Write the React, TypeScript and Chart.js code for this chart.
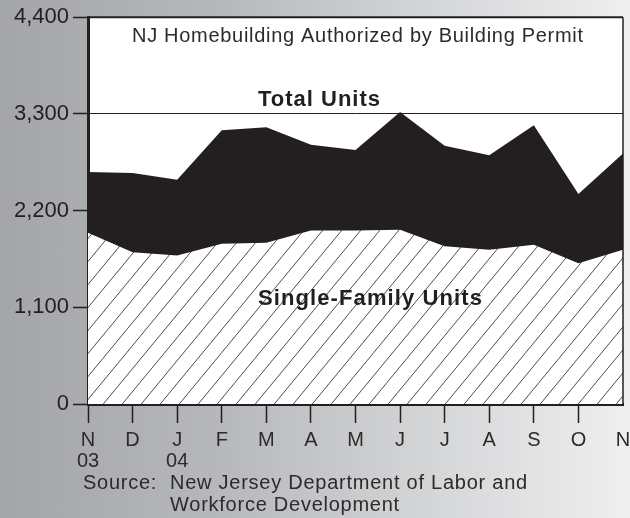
import React, { useEffect, useRef } from 'react';
import { Chart, registerables } from 'chart.js';
Chart.register(...registerables);

const months: (string | string[])[] = [["N", "03"], "D", ["J", "04"], "F", "M", "A", "M", "J", "J", "A", "S", "O", "N"];
const totalUnits = [2640, 2627, 2552, 3115, 3149, 2948, 2888, 3323, 2937, 2831, 3171, 2389, 2850];
const singleFamily = [1947, 1727, 1690, 1822, 1833, 1973, 1973, 1981, 1795, 1754, 1811, 1602, 1754];
const yMin = 0;
const yMax = 4400;
const yStep = 1100;
const gridValue = 3300;
const chartTitle = "NJ Homebuilding Authorized by Building Permit";
const totalLabel = "Total Units";
const singleLabel = "Single-Family Units";
const sourceLabel = "Source:";
const sourceLines = ["New Jersey Department of Labor and", "Workforce Development"];

const INK = '#231f20';
const TEXT = '#2b2b2b';
const FONT = '"Liberation Sans", Arial, Helvetica, sans-serif';

function makeHatch(ctx: CanvasRenderingContext2D) {
  const c = document.createElement('canvas');
  const w = 19, h = 23;
  c.width = w; c.height = h;
  const g = c.getContext('2d')!;
  g.fillStyle = '#ffffff';
  g.fillRect(0, 0, w, h);
  g.strokeStyle = '#3a3a3a';
  g.lineWidth = 0.9;
  g.beginPath();
  for (const dx of [-w, 0, w]) {
    g.moveTo(dx, h);
    g.lineTo(dx + w, 0);
  }
  g.stroke();
  return ctx.createPattern(c, 'repeat')!;
}

const overlay = {
  id: 'overlay',
  beforeDraw(chart: any) {
    const { ctx, chartArea: ca } = chart;
    ctx.save();
    ctx.fillStyle = '#ffffff';
    ctx.fillRect(ca.left, ca.top, ca.right - ca.left, ca.bottom - ca.top);
    ctx.restore();
  },
  afterDatasetsDraw(chart: any) {
    const { ctx, chartArea: ca } = chart;
    ctx.save();
    ctx.strokeStyle = INK;
    ctx.lineWidth = 2;
    ctx.beginPath();
    ctx.moveTo(ca.left, ca.top);
    ctx.lineTo(ca.right, ca.top);
    ctx.stroke();
    ctx.lineWidth = 1.5;
    ctx.beginPath();
    ctx.moveTo(ca.right, ca.top);
    ctx.lineTo(ca.right, ca.bottom);
    ctx.stroke();
    ctx.textAlign = 'left';
    ctx.textBaseline = 'alphabetic';
    ctx.fillStyle = TEXT;
    ctx.font = `20px ${FONT}`;
    (ctx as any).letterSpacing = '0.7px';
    ctx.fillText(chartTitle, 132, 41.5);
    ctx.fillStyle = INK;
    ctx.font = `bold 22px ${FONT}`;
    (ctx as any).letterSpacing = '1px';
    ctx.fillText(totalLabel, 258, 106);
    (ctx as any).letterSpacing = '1.1px';
    ctx.fillText(singleLabel, 258, 305);
    ctx.restore();
  },
  afterDraw(chart: any) {
    const { ctx } = chart;
    ctx.save();
    ctx.fillStyle = TEXT;
    ctx.font = `20px ${FONT}`;
    (ctx as any).letterSpacing = '0.75px';
    ctx.textAlign = 'left';
    ctx.textBaseline = 'alphabetic';
    ctx.fillText(sourceLabel, 83, 489);
    ctx.fillText(sourceLines[0], 170, 489);
    ctx.fillText(sourceLines[1], 170, 511);
    ctx.restore();
  },
};

export default function App() {
  const ref = useRef<HTMLCanvasElement>(null);
  useEffect(() => {
    document.body.style.margin = '0';
    const canvas = ref.current!;
    const ctx = canvas.getContext('2d')!;
    const hatch = makeHatch(ctx);
    const chart = new Chart(canvas, {
      type: 'line',
      data: {
        labels: months,
        datasets: [
          {
            label: singleLabel,
            data: singleFamily,
            fill: 'origin',
            backgroundColor: hatch as any,
            borderWidth: 0,
            borderColor: 'transparent',
            pointRadius: 0,
            tension: 0,
          },
          {
            label: totalLabel,
            data: totalUnits,
            fill: 'origin',
            backgroundColor: INK,
            borderWidth: 0,
            borderColor: 'transparent',
            pointRadius: 0,
            tension: 0,
          },
        ],
      },
      plugins: [overlay],
      options: {
        animation: false,
        responsive: false,
        maintainAspectRatio: false,
        devicePixelRatio: 1,
        layout: { padding: { top: 16, right: 0, left: 0, bottom: 0 } },
        plugins: {
          legend: { display: false },
          tooltip: { enabled: false },
          title: { display: false },
        },
        scales: {
          x: {
            type: 'category',
            offset: false,
            border: { display: true, color: INK, width: 3 },
            grid: {
              drawOnChartArea: false,
              drawTicks: true,
              tickLength: 19,
              tickWidth: 1.5,
              tickColor: (c: any) => (c.index === months.length - 1 ? 'transparent' : INK),
            },
            ticks: {
              autoSkip: false,
              maxRotation: 0,
              minRotation: 0,
              padding: 7,
              color: TEXT,
              font: { family: FONT, size: 20, lineHeight: 1.05 },
            },
            afterFit: (s: any) => { s.height = 114; s.paddingRight = 7; s.paddingLeft = 0; },
          },
          y: {
            min: yMin,
            max: yMax,
            border: { display: true, color: INK, width: 3 },
            grid: {
              drawOnChartArea: true,
              drawTicks: true,
              tickLength: 15,
              tickWidth: 1.5,
              lineWidth: 1,
              color: (c: any) => (c.tick && c.tick.value === gridValue ? INK : 'transparent'),
              tickColor: INK,
            },
            ticks: {
              stepSize: yStep,
              padding: 4,
              color: INK,
              font: { family: FONT, size: 22 },
              callback: (v: any) => Number(v).toLocaleString('en-US'),
            },
            afterFit: (s: any) => { s.width = 88; },
          },
        },
      },
    });
    return () => chart.destroy();
  }, []);
  return (
    <div style={{ width: 630, height: 518, background: 'linear-gradient(to right, #a3a5a8 0%, #b6b8bb 35%, #d6d7d9 70%, #efefef 100%)' }}>
      <canvas ref={ref} width={630} height={518} style={{ display: 'block', width: 630, height: 518 }} />
    </div>
  );
}
